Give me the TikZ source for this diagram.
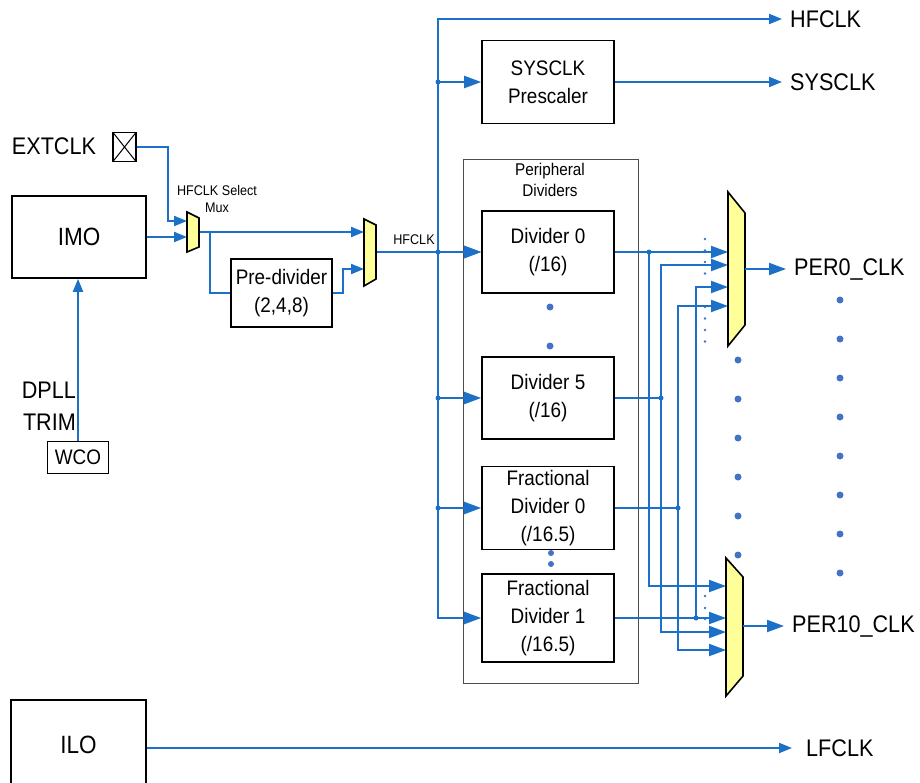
\documentclass[tikz,border=0pt]{standalone}
\usepackage{fontspec}
\setmainfont{Liberation Sans}[FakeStretch=0.9]
\usetikzlibrary{arrows.meta}
\definecolor{wireblue}{RGB}{28,112,200}
\definecolor{dotblue}{RGB}{68,114,196}
\definecolor{muxfill}{RGB}{255,255,153}

\begin{document}
\begin{tikzpicture}[x=1pt, y=-1pt,
	link/.style={draw=wireblue, line width=2pt},
	sarr/.style={link, -{Triangle[length=13pt,width=10pt]}},
	barr/.style={link, -{Triangle[length=17pt,width=12pt]}},
	blk/.style={draw, line width=1.6pt, align=center, inner sep=0pt, font=\fontsize{21}{28}\selectfont},
	lbl/.style={inner sep=0pt, font=\fontsize{24}{32}\selectfont},
	outlbl/.style={lbl, anchor=west, inner xsep=8pt},
	small/.style={align=center, inner sep=0pt, font=\fontsize{14}{17}\selectfont},
	muxs/.style={draw, line width=1.6pt, fill=muxfill, line join=miter}]
\useasboundingbox (0,0) rectangle (920,782);

\node[draw=black!70, line width=1pt, minimum width=175, minimum height=524, inner sep=0pt] (periph) at (550.5,421) {};
\node[small, font=\fontsize{17}{21}\selectfont] (periphlbl) at (550,179.5) {Peripheral\\Dividers};

\node[lbl] (extlbl) at (54,146) {EXTCLK};
\node[draw, line width=1.5pt, minimum width=23, minimum height=29, inner sep=0pt,
	path picture={\draw[line width=1pt] (path picture bounding box.north west) -- (path picture bounding box.south east)
		(path picture bounding box.north east) -- (path picture bounding box.south west);}] (pin) at (124.5,147) {};
\node[blk, minimum width=134, minimum height=82, font=\fontsize{25}{30}\selectfont] (imo) at (79,237) {IMO};
\node[draw, line width=1pt, minimum width=61, minimum height=32, inner sep=0pt, font=\fontsize{21}{24}\selectfont] (wco) at (78,457) {WCO};
\node[lbl, align=right, anchor=east] (dpll) at (76,406) {DPLL\\TRIM};
\node[blk, minimum width=135, minimum height=90, font=\fontsize{25}{30}\selectfont] (ilo) at (78.5,745) {ILO};

\node[small] (sellbl) at (217,198.5) {HFCLK Select\\Mux};
\node[blk, minimum width=101, minimum height=68] (pre) at (281.5,293) {Pre-divider\\(2,4,8)};
\node[small] (hflbl) at (414,240) {HFCLK};

\node[blk, minimum width=132, minimum height=83] (sys) at (548,82) {SYSCLK\\Prescaler};
\node[blk, minimum width=132, minimum height=82] (div0) at (548,252) {Divider 0\\(/16)};
\node[blk, minimum width=132, minimum height=82] (div5) at (548,398) {Divider 5\\(/16)};
\node[blk, minimum width=132, minimum height=83] (fd0) at (548,508) {Fractional\\Divider 0\\(/16.5)};
\node[blk, minimum width=132, minimum height=88] (fd1) at (548,618) {Fractional\\Divider 1\\(/16.5)};

\node[outlbl] (hfout) at (782,19) {HFCLK};
\node[outlbl] (sysout) at (782,82) {SYSCLK};
\node[outlbl] (per0) at (786,269) {PER0\_CLK};
\node[outlbl] (per10) at (784,626) {PER10\_CLK};
\node[outlbl, inner xsep=14pt] (lfout) at (792,748) {LFCLK};

\coordinate (m1a) at (187,221);
\coordinate (m1b) at (187,237);
\coordinate (m1o) at (199,232);
\coordinate (m2a) at (364,232);
\coordinate (m2b) at (364,269);
\coordinate (m2o) at (376,252);
\coordinate (bus) at (438,19);
\coordinate (va) at (649,0);
\coordinate (vb) at (661,0);
\coordinate (vc) at (678,0);
\coordinate (vd) at (696,0);
\coordinate (p0a) at (728,252);
\coordinate (p0b) at (728,265);
\coordinate (p0c) at (728,287);
\coordinate (p0d) at (728,306);
\coordinate (p0o) at (745,269);
\coordinate (p1a) at (726,586);
\coordinate (p1b) at (726,618);
\coordinate (p1c) at (726,632);
\coordinate (p1d) at (726,650);
\coordinate (p1o) at (743,626);

\foreach \y in {239,250.5,262,273.5,307,318.5,330,341.5}{
	\fill[dotblue] (705,\y) circle (1.3);
}
\foreach \y in {596,608,619}{
	\fill[dotblue] (705,\y) circle (1.3);
}
\foreach \y in {360,399,...,555}{
	\fill[dotblue] (738,\y) circle (3.5);
}
\foreach \y in {300,339,...,573}{
	\fill[dotblue] (840,\y) circle (3.5);
}
\fill[dotblue] (550,307) circle (3.5) (550,346) circle (3.5);
\fill[dotblue] (551,553) circle (3) (551,564) circle (3);

\draw[sarr] (pin.east) -- ++(31,0) |- (m1a);
\draw[sarr] (imo.east) -- (m1b);
\draw[sarr] (wco.north) -- (wco.north |- imo.south);
\draw[sarr] (m1o) -- (m2a);
\draw[link] (m1o) -- ++(11,0) |- (pre.west);
\draw[sarr] (pre.east) -- ++(10,0) |- (m2b);
\draw[barr] (m2o) -- (div0.west);

\draw[link, {Triangle[length=17pt,width=12pt]}-{Triangle[length=13pt,width=10pt]}] (fd1.west) -| (bus) -- (hfout.west);
\foreach \b in {sys,div0,div5,fd0}{
	\draw[barr] (bus |- \b.west) -- (\b.west);
	\fill[wireblue] (bus |- \b.west) circle (2.5);
}
\draw[sarr] (sys.east) -- (sysout.west);

\draw[barr] (div0.east) -- (p0a);
\draw[barr] (va |- div0.east) |- (p1a);
\draw[link] (div5.east) -- (vb |- div5.east);
\draw[barr] (vb |- div5.east) |- (p0b);
\draw[barr] (vb |- div5.east) |- (p1c);
\draw[link] (fd0.east) -- (vc |- fd0.east);
\draw[barr] (vc |- fd0.east) |- (p0d);
\draw[barr] (vc |- fd0.east) |- (p1d);
\draw[barr] (fd1.east) -- (p1b);
\draw[barr] (vd |- fd1.east) |- (p0c);
\foreach \d/\v in {div0/va,div5/vb,fd0/vc,fd1/vd}{
	\fill[wireblue] (\v |- \d.east) circle (2.5);
}

\filldraw[muxs] (187,212) -- (199,218) -- (199,247) -- (187,252) -- cycle;
\filldraw[muxs] (364,219) -- (376,225) -- (376,279) -- (364,286) -- cycle;
\filldraw[muxs] (728,192) -- (745,213) -- (745,325) -- (728,346) -- cycle;
\filldraw[muxs] (726,558) -- (743,577) -- (743,676) -- (726,696) -- cycle;

\draw[barr] (p0o) -- (per0.west);
\draw[barr] (p1o) -- (per10.west);
\draw[sarr] (ilo.east |- lfout.west) -- (lfout.west);
\end{tikzpicture}
\end{document}
